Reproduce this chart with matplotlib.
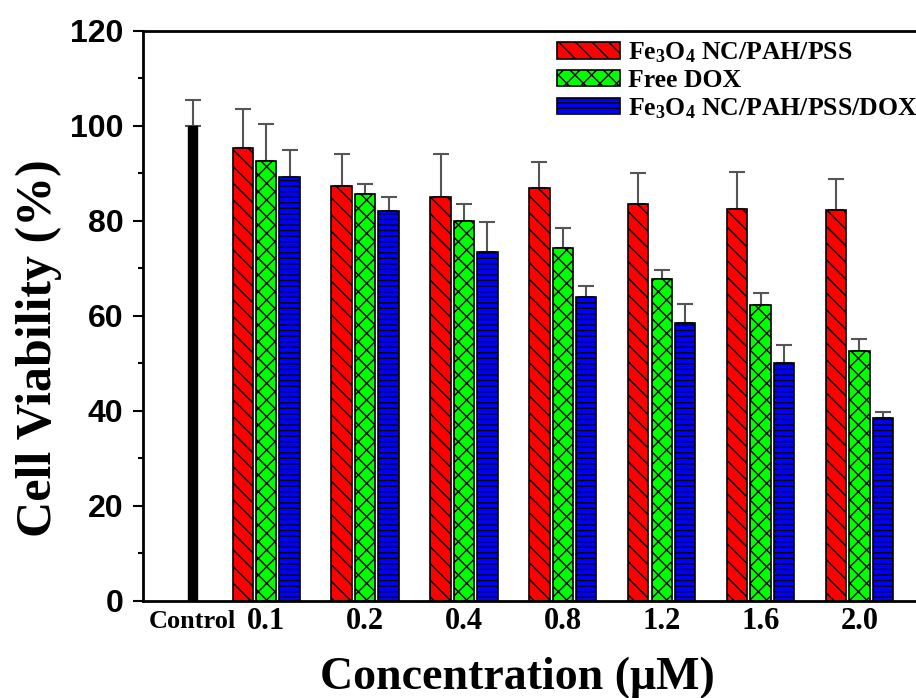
#!/usr/bin/env python3
"""
Cell viability bar chart (Fe3O4 NC/PAH/PSS, free DOX, Fe3O4 NC/PAH/PSS/DOX).
"""

import matplotlib
matplotlib.use('Agg')
import matplotlib.pyplot as plt
import numpy as np
from matplotlib.ticker import MultipleLocator

plt.rcParams['font.family'] = 'Liberation Serif'
plt.rcParams['font.weight'] = 'bold'
plt.rcParams['mathtext.fontset'] = 'custom'
plt.rcParams['mathtext.rm'] = 'Liberation Serif:bold'
plt.rcParams['mathtext.bf'] = 'Liberation Serif:bold'
plt.rcParams['mathtext.it'] = 'Liberation Serif:bold'
plt.rcParams['mathtext.default'] = 'rm'
plt.rcParams['hatch.linewidth'] = 1.0

# Data
concentrations = ['0.1', '0.2', '0.4', '0.8', '1.2', '1.6', '2.0']
control_value = 100.0
control_err = 5.5

nc_pah_pss = [95.3, 87.3, 85.0, 86.8, 83.5, 82.5, 82.3]
nc_pah_pss_err = [8.3, 6.8, 9.0, 5.5, 6.5, 7.7, 6.5]

free_dox = [92.5, 85.7, 80.0, 74.2, 67.7, 62.3, 52.5]
free_dox_err = [7.8, 2.0, 3.5, 4.3, 2.0, 2.5, 2.7]

nc_dox = [89.3, 82.0, 73.5, 64.0, 58.5, 50.0, 38.5]
nc_dox_err = [5.7, 3.0, 6.3, 2.3, 4.0, 3.8, 1.2]

labels = [r'Fe$_3$O$_4$ NC/PAH/PSS', 'Free DOX', r'Fe$_3$O$_4$ NC/PAH/PSS/DOX']
colors = ['#FF0000', '#00FF00', '#0000FF']
hatches = ['\\\\', 'xx', '---']

fig = plt.figure(figsize=(9.16, 6.98), dpi=100)
ax = fig.add_axes([0.156, 0.139, 0.86, 0.817])

x = np.arange(1, len(concentrations) + 1)
width = 0.206
step = 0.237
control_x = 0.258

err_kw = dict(ecolor='#555555', elinewidth=1.5, capsize=6, capthick=1.5)

ax.bar(control_x, control_value, 0.093, color='black', edgecolor='black', zorder=2)
ax.errorbar(control_x, control_value, yerr=[[0], [control_err]], fmt='none', zorder=1, **err_kw)

series = [(nc_pah_pss, nc_pah_pss_err), (free_dox, free_dox_err), (nc_dox, nc_dox_err)]
for k, (vals, errs) in enumerate(series):
    pos = x + (k - 1) * step
    ax.bar(pos, vals, width, color=colors[k], edgecolor='black', hatch=hatches[k],
           linewidth=1.2, label=labels[k], zorder=2)
    ax.errorbar(pos, vals, yerr=[np.zeros(len(errs)), errs], fmt='none', zorder=1, **err_kw)

ax.set_ylim(0, 120)
ax.set_xlim(-0.247, 7.72)
ax.yaxis.set_major_locator(MultipleLocator(20))
ax.yaxis.set_minor_locator(MultipleLocator(10))
ax.tick_params(axis='y', which='major', direction='out', length=7, width=1.5, pad=7)
ax.tick_params(axis='y', which='minor', direction='out', length=3.6, width=1.5)
ax.tick_params(axis='x', length=0, pad=15)

ax.set_xticks([control_x] + list(x))
ax.set_xticklabels(['Control'] + concentrations)
for i, t in enumerate(ax.get_xticklabels()):
    t.set_fontweight('bold')
    t.set_fontsize(19 if i == 0 else 22)
    t.set_verticalalignment('center')

for t in ax.get_yticklabels():
    t.set_fontfamily('Liberation Sans')
    t.set_fontweight('bold')
    t.set_fontsize(23)

for side in ['left', 'bottom', 'top']:
    ax.spines[side].set_linewidth(2)
ax.spines['right'].set_visible(False)

ax.set_ylabel('Cell Viability (%)', fontsize=36, fontweight='bold')
ax.yaxis.set_label_coords(-0.103, 0.444)
ax.set_xlabel('Concentration (\u03bcM)', fontsize=33, fontweight='bold')
ax.xaxis.set_label_coords(0.476, -0.098)

leg = ax.legend(loc='upper right', bbox_to_anchor=(1.0, 1.005), frameon=False,
                fontsize=18.5, handlelength=2.45, handleheight=0.6, labelspacing=0.15,
                handletextpad=0.3, borderaxespad=0.1)

plt.savefig('out.png', dpi=100)
